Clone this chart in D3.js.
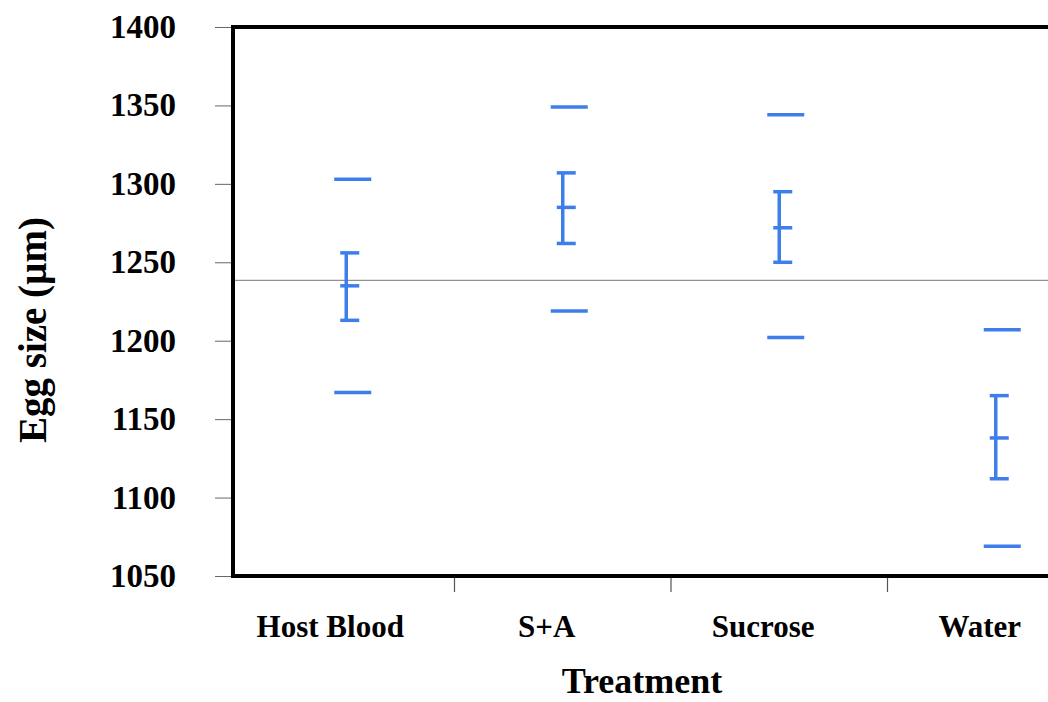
<!DOCTYPE html>
<html>
<head>
<meta charset="utf-8">
<script src="https://cdn.jsdelivr.net/npm/d3@7"></script>
<style>
  body { margin: 0; background: #fff; }
  text { font-family: "Liberation Serif", "Times New Roman", serif; font-weight: bold; }
</style>
</head>
<body>
<div id="chart"></div>
<script>
// treatments and egg size summaries (µm)
const treatments = ["Host Blood", "S+A", "Sucrose", "Water"];
const means   = [1235, 1285, 1272, 1138];
const ciHigh  = [1256, 1307, 1295, 1165];
const ciLow   = [1213, 1262, 1250, 1112];
const outHigh = [1303, 1349, 1344, 1207];
const outLow  = [1167, 1219, 1202, 1069];
const grandMean = 1238.5;
const yTicks = [1050, 1100, 1150, 1200, 1250, 1300, 1350, 1400];

const W = 1048, H = 702;
const margin = { top: 27, left: 233, bottom: 126 };
const plotH = H - margin.top - margin.bottom;
const blue = "#3d7eea";

const svg = d3.select("#chart")
    .append("svg")
    .attr("width", W)
    .attr("height", H);

const y = d3.scaleLinear()
    .domain([1050, 1400])
    .range([margin.top + plotH, margin.top]);

const x = d3.scaleBand()
    .domain(treatments)
    .range([238, 1104]);

// grand mean reference line
svg.append("line")
    .attr("x1", margin.left).attr("x2", W)
    .attr("y1", y(grandMean)).attr("y2", y(grandMean))
    .attr("stroke", "#777").attr("stroke-width", 1);

// y axis ticks + labels
const yAxis = svg.append("g")
    .attr("transform", "translate(" + margin.left + ",0)")
    .call(d3.axisLeft(y).tickValues(yTicks).tickSize(18).tickFormat(d3.format("d")));
yAxis.select(".domain").remove();
yAxis.selectAll(".tick line").attr("stroke", "#666");
yAxis.selectAll(".tick text")
    .attr("x", -57)
    .style("font-size", "33px")
    .style("font-family", "Liberation Serif")
    .style("font-weight", "bold")
    .attr("fill", "#000");

// x axis ticks between categories
const xb = treatments.slice(1).map(t => x(t));
svg.selectAll(".xtick")
    .data(xb)
    .enter()
    .append("line")
    .attr("x1", d => d).attr("x2", d => d)
    .attr("y1", margin.top + plotH).attr("y2", margin.top + plotH + 16)
    .attr("stroke", "#555").attr("stroke-width", 1.2);

// frame
svg.append("rect")
    .attr("x", margin.left)
    .attr("y", margin.top)
    .attr("width", W + 20 - margin.left)
    .attr("height", plotH)
    .attr("fill", "none")
    .attr("stroke", "#000")
    .attr("stroke-width", 4);

// category labels
svg.selectAll(".cat")
    .data(treatments)
    .enter()
    .append("text")
    .attr("x", d => x(d) + x.bandwidth() / 2 - 16)
    .attr("y", 637)
    .attr("text-anchor", "middle")
    .style("font-size", "31px")
    .text(d => d);

// error bars
const cx = i => x(treatments[i]) + x.bandwidth() / 2;
const g = svg.append("g").attr("stroke", blue).attr("stroke-width", 3.5);

treatments.forEach((t, i) => {
    const c = cx(i);
    g.append("line").attr("x1", c).attr("x2", c)
        .attr("y1", y(ciHigh[i])).attr("y2", y(ciLow[i]));
    [ciHigh[i], means[i], ciLow[i]].forEach(v => {
        g.append("line").attr("x1", c - 6).attr("x2", c + 13)
            .attr("y1", y(v)).attr("y2", y(v));
    });
    [outHigh[i], outLow[i]].forEach(v => {
        g.append("line").attr("x1", c - 12).attr("x2", c + 25)
            .attr("y1", y(v)).attr("y2", y(v));
    });
});

// axis titles
svg.append("text")
    .attr("x", 642)
    .attr("y", 693)
    .attr("text-anchor", "middle")
    .style("font-size", "36px")
    .text("Treatment");

svg.append("text")
    .attr("transform", "translate(46,330) rotate(-90)")
    .attr("text-anchor", "middle")
    .style("font-size", "39px")
    .text("Egg size (µm)");
</script>
</body>
</html>
